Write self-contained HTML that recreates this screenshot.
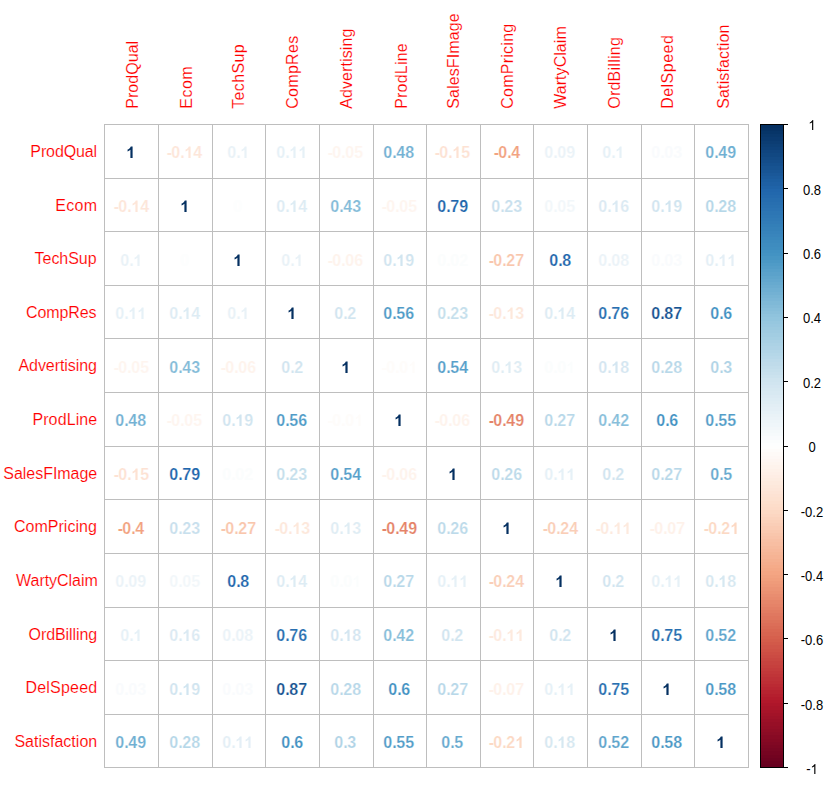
<!DOCTYPE html><html><head><meta charset="utf-8"><style>html,body{margin:0;padding:0;background:#fff;width:838px;height:785px;overflow:hidden}svg{display:block}text{font-family:"Liberation Sans",sans-serif}</style></head><body><svg width="838" height="785" viewBox="0 0 838 785" shape-rendering="crispEdges"><rect x="0" y="0" width="838" height="785" fill="#fff"/><g fill="#BEBEBE"><rect x="104" y="124" width="1" height="644"/><rect x="158" y="124" width="1" height="644"/><rect x="212" y="124" width="1" height="644"/><rect x="265" y="124" width="1" height="644"/><rect x="319" y="124" width="1" height="644"/><rect x="373" y="124" width="1" height="644"/><rect x="426" y="124" width="1" height="644"/><rect x="480" y="124" width="1" height="644"/><rect x="533" y="124" width="1" height="644"/><rect x="587" y="124" width="1" height="644"/><rect x="641" y="124" width="1" height="644"/><rect x="694" y="124" width="1" height="644"/><rect x="748" y="124" width="1" height="644"/><rect x="104" y="124" width="645" height="1"/><rect x="104" y="178" width="645" height="1"/><rect x="104" y="231" width="645" height="1"/><rect x="104" y="285" width="645" height="1"/><rect x="104" y="338" width="645" height="1"/><rect x="104" y="392" width="645" height="1"/><rect x="104" y="446" width="645" height="1"/><rect x="104" y="499" width="645" height="1"/><rect x="104" y="553" width="645" height="1"/><rect x="104" y="607" width="645" height="1"/><rect x="104" y="660" width="645" height="1"/><rect x="104" y="714" width="645" height="1"/><rect x="104" y="767" width="645" height="1"/></g><defs><path id="one" d="M806 0H525V1053Q371 909 163 840V1094Q273 1130 401 1230Q529 1330 577 1466H806Z"/></defs><g font-weight="bold" font-size="16px" stroke="#fff" stroke-width="0.2"><text x="126.30" y="158" fill="#053061"> </text><text x="166.80 171.30 180.30 184.30 193.30" y="158" fill="#FDE6D9">-0. 4</text><text x="227.30 236.30 240.30" y="158" fill="#E9F2F7">0. </text><text x="276.30 285.30 289.30 298.30" y="158" fill="#E6F1F7">0.  </text><text x="327.80 332.30 341.30 345.30 354.30" y="158" fill="#FEF5EF">-0.05</text><text x="383.30 392.30 396.30 405.30" y="158" fill="#73B1D3">0.48</text><text x="434.80 439.30 448.30 452.30 461.30" y="158" fill="#FDE2D3">-0. 5</text><text x="493.80 498.30 507.30 511.30" y="158" fill="#F2A280">-0.4</text><text x="544.30 553.30 557.30 566.30" y="158" fill="#EBF3F8">0.09</text><text x="602.30 611.30 615.30" y="158" fill="#E6F1F7">0. </text><text x="651.30 660.30 664.30 673.30" y="158" fill="#F9FBFD">0.03</text><text x="705.30 714.30 718.30 727.30" y="158" fill="#6FAFD2">0.49</text><text x="113.80 118.30 127.30 131.30 140.30" y="212" fill="#FDE6D9">-0. 4</text><text x="180.30" y="212" fill="#053061"> </text><text x="233.30" y="212" fill="#FDFEFE">0</text><text x="276.30 285.30 289.30 298.30" y="212" fill="#DDECF4">0. 4</text><text x="330.30 339.30 343.30 352.30" y="212" fill="#83BBD8">0.43</text><text x="381.80 386.30 395.30 399.30 408.30" y="212" fill="#FEF5EF">-0.05</text><text x="437.30 446.30 450.30 459.30" y="212" fill="#2166AC">0.79</text><text x="491.30 500.30 504.30 513.30" y="212" fill="#C8E0ED">0.23</text><text x="544.30 553.30 557.30 566.30" y="212" fill="#F2F7FA">0.05</text><text x="598.30 607.30 611.30 620.30" y="212" fill="#DBEAF3">0. 6</text><text x="651.30 660.30 664.30 673.30" y="212" fill="#D1E5F0">0. 9</text><text x="705.30 714.30 718.30 727.30" y="212" fill="#B5D7E8">0.28</text><text x="120.30 129.30 133.30" y="266" fill="#E9F2F7">0. </text><text x="180.30" y="266" fill="#FDFEFE">0</text><text x="233.30" y="266" fill="#053061"> </text><text x="281.30 290.30 294.30" y="266" fill="#E9F2F7">0. </text><text x="327.80 332.30 341.30 345.30 354.30" y="266" fill="#FEF3EC">-0.06</text><text x="383.30 392.30 396.30 405.30" y="266" fill="#D1E5F0">0. 9</text><text x="437.30 446.30 450.30 459.30" y="266" fill="#FBFDFD">0.02</text><text x="488.80 493.30 502.30 506.30 515.30" y="266" fill="#F9C6AC">-0.27</text><text x="549.30 558.30 562.30" y="266" fill="#2166AC">0.8</text><text x="598.30 607.30 611.30 620.30" y="266" fill="#EBF3F8">0.08</text><text x="651.30 660.30 664.30 673.30" y="266" fill="#F9FBFD">0.03</text><text x="705.30 714.30 718.30 727.30" y="266" fill="#E4EFF6">0.  </text><text x="115.30 124.30 128.30 137.30" y="319" fill="#E6F1F7">0.  </text><text x="169.30 178.30 182.30 191.30" y="319" fill="#DDECF4">0. 4</text><text x="227.30 236.30 240.30" y="319" fill="#E9F2F7">0. </text><text x="287.30" y="319" fill="#053061"> </text><text x="334.30 343.30 347.30" y="319" fill="#D1E5F0">0.2</text><text x="383.30 392.30 396.30 405.30" y="319" fill="#4F9BC7">0.56</text><text x="437.30 446.30 450.30 459.30" y="319" fill="#C5DFEC">0.23</text><text x="488.80 493.30 502.30 506.30 515.30" y="319" fill="#FDE8DB">-0. 3</text><text x="544.30 553.30 557.30 566.30" y="319" fill="#DDECF4">0. 4</text><text x="598.30 607.30 611.30 620.30" y="319" fill="#286FB0">0.76</text><text x="651.30 660.30 664.30 673.30" y="319" fill="#175391">0.87</text><text x="710.30 719.30 723.30" y="319" fill="#4191C2">0.6</text><text x="113.80 118.30 127.30 131.30 140.30" y="373" fill="#FEF5EF">-0.05</text><text x="169.30 178.30 182.30 191.30" y="373" fill="#83BBD8">0.43</text><text x="220.80 225.30 234.30 238.30 247.30" y="373" fill="#FEF3EC">-0.06</text><text x="281.30 290.30 294.30" y="373" fill="#D1E5F0">0.2</text><text x="341.30" y="373" fill="#053061"> </text><text x="381.80 386.30 395.30 399.30 408.30" y="373" fill="#FEFCFA">-0.0 </text><text x="437.30 446.30 450.30 459.30" y="373" fill="#57A0CA">0.54</text><text x="491.30 500.30 504.30 513.30" y="373" fill="#DFEDF4">0. 3</text><text x="544.30 553.30 557.30 566.30" y="373" fill="#FBFDFD">0.0 </text><text x="598.30 607.30 611.30 620.30" y="373" fill="#D4E6F1">0. 8</text><text x="651.30 660.30 664.30 673.30" y="373" fill="#B8D8E9">0.28</text><text x="710.30 719.30 723.30" y="373" fill="#AFD3E6">0.3</text><text x="115.30 124.30 128.30 137.30" y="426" fill="#73B1D3">0.48</text><text x="166.80 171.30 180.30 184.30 193.30" y="426" fill="#FEF5EF">-0.05</text><text x="222.30 231.30 235.30 244.30" y="426" fill="#D1E5F0">0. 9</text><text x="276.30 285.30 289.30 298.30" y="426" fill="#4F9BC7">0.56</text><text x="327.80 332.30 341.30 345.30 354.30" y="426" fill="#FEFCFA">-0.0 </text><text x="394.30" y="426" fill="#053061"> </text><text x="434.80 439.30 448.30 452.30 461.30" y="426" fill="#FEF3EC">-0.06</text><text x="488.80 493.30 502.30 506.30 515.30" y="426" fill="#E58368">-0.49</text><text x="544.30 553.30 557.30 566.30" y="426" fill="#B8D8E9">0.27</text><text x="598.30 607.30 611.30 620.30" y="426" fill="#87BEDA">0.42</text><text x="656.30 665.30 669.30" y="426" fill="#4191C2">0.6</text><text x="705.30 714.30 718.30 727.30" y="426" fill="#539DC8">0.55</text><text x="113.80 118.30 127.30 131.30 140.30" y="480" fill="#FDE2D3">-0. 5</text><text x="169.30 178.30 182.30 191.30" y="480" fill="#2166AC">0.79</text><text x="222.30 231.30 235.30 244.30" y="480" fill="#FBFDFD">0.02</text><text x="276.30 285.30 289.30 298.30" y="480" fill="#C5DFEC">0.23</text><text x="330.30 339.30 343.30 352.30" y="480" fill="#57A0CA">0.54</text><text x="381.80 386.30 395.30 399.30 408.30" y="480" fill="#FEF3EC">-0.06</text><text x="448.30" y="480" fill="#053061"> </text><text x="491.30 500.30 504.30 513.30" y="480" fill="#BCDAEA">0.26</text><text x="544.30 553.30 557.30 566.30" y="480" fill="#E6F1F7">0.  </text><text x="602.30 611.30 615.30" y="480" fill="#D1E5F0">0.2</text><text x="651.30 660.30 664.30 673.30" y="480" fill="#B8D8E9">0.27</text><text x="710.30 719.30 723.30" y="480" fill="#67AACF">0.5</text><text x="117.80 122.30 131.30 135.30" y="534" fill="#F2A280">-0.4</text><text x="169.30 178.30 182.30 191.30" y="534" fill="#C8E0ED">0.23</text><text x="220.80 225.30 234.30 238.30 247.30" y="534" fill="#F9C6AC">-0.27</text><text x="274.80 279.30 288.30 292.30 301.30" y="534" fill="#FDE8DB">-0. 3</text><text x="330.30 339.30 343.30 352.30" y="534" fill="#DFEDF4">0. 3</text><text x="381.80 386.30 395.30 399.30 408.30" y="534" fill="#E58368">-0.49</text><text x="437.30 446.30 450.30 459.30" y="534" fill="#BCDAEA">0.26</text><text x="502.30" y="534" fill="#053061"> </text><text x="542.80 547.30 556.30 560.30 569.30" y="534" fill="#FACEB7">-0.24</text><text x="595.80 600.30 609.30 613.30 622.30" y="534" fill="#FDEADE">-0.  </text><text x="649.80 654.30 663.30 667.30 676.30" y="534" fill="#FEF1E9">-0.07</text><text x="703.80 708.30 717.30 721.30 730.30" y="534" fill="#FCD9C4">-0.2 </text><text x="115.30 124.30 128.30 137.30" y="587" fill="#EBF3F8">0.09</text><text x="169.30 178.30 182.30 191.30" y="587" fill="#F2F7FA">0.05</text><text x="227.30 236.30 240.30" y="587" fill="#2166AC">0.8</text><text x="276.30 285.30 289.30 298.30" y="587" fill="#DDECF4">0. 4</text><text x="330.30 339.30 343.30 352.30" y="587" fill="#FBFDFD">0.0 </text><text x="383.30 392.30 396.30 405.30" y="587" fill="#B8D8E9">0.27</text><text x="437.30 446.30 450.30 459.30" y="587" fill="#E6F1F7">0.  </text><text x="488.80 493.30 502.30 506.30 515.30" y="587" fill="#FACEB7">-0.24</text><text x="555.30" y="587" fill="#053061"> </text><text x="602.30 611.30 615.30" y="587" fill="#D1E5F0">0.2</text><text x="651.30 660.30 664.30 673.30" y="587" fill="#E6F1F7">0.  </text><text x="705.30 714.30 718.30 727.30" y="587" fill="#D6E8F1">0. 8</text><text x="120.30 129.30 133.30" y="641" fill="#E6F1F7">0. </text><text x="169.30 178.30 182.30 191.30" y="641" fill="#DBEAF3">0. 6</text><text x="222.30 231.30 235.30 244.30" y="641" fill="#EBF3F8">0.08</text><text x="276.30 285.30 289.30 298.30" y="641" fill="#286FB0">0.76</text><text x="330.30 339.30 343.30 352.30" y="641" fill="#D4E6F1">0. 8</text><text x="383.30 392.30 396.30 405.30" y="641" fill="#87BEDA">0.42</text><text x="441.30 450.30 454.30" y="641" fill="#D1E5F0">0.2</text><text x="488.80 493.30 502.30 506.30 515.30" y="641" fill="#FDEADE">-0.  </text><text x="549.30 558.30 562.30" y="641" fill="#D1E5F0">0.2</text><text x="609.30" y="641" fill="#053061"> </text><text x="651.30 660.30 664.30 673.30" y="641" fill="#286FB0">0.75</text><text x="705.30 714.30 718.30 727.30" y="641" fill="#5FA5CC">0.52</text><text x="115.30 124.30 128.30 137.30" y="695" fill="#F9FBFD">0.03</text><text x="169.30 178.30 182.30 191.30" y="695" fill="#D1E5F0">0. 9</text><text x="222.30 231.30 235.30 244.30" y="695" fill="#F9FBFD">0.03</text><text x="276.30 285.30 289.30 298.30" y="695" fill="#175391">0.87</text><text x="330.30 339.30 343.30 352.30" y="695" fill="#B8D8E9">0.28</text><text x="388.30 397.30 401.30" y="695" fill="#4191C2">0.6</text><text x="437.30 446.30 450.30 459.30" y="695" fill="#B8D8E9">0.27</text><text x="488.80 493.30 502.30 506.30 515.30" y="695" fill="#FEF1E9">-0.07</text><text x="544.30 553.30 557.30 566.30" y="695" fill="#E6F1F7">0.  </text><text x="598.30 607.30 611.30 620.30" y="695" fill="#286FB0">0.75</text><text x="662.30" y="695" fill="#053061"> </text><text x="705.30 714.30 718.30 727.30" y="695" fill="#4B98C5">0.58</text><text x="115.30 124.30 128.30 137.30" y="748" fill="#6FAFD2">0.49</text><text x="169.30 178.30 182.30 191.30" y="748" fill="#B5D7E8">0.28</text><text x="222.30 231.30 235.30 244.30" y="748" fill="#E4EFF6">0.  </text><text x="281.30 290.30 294.30" y="748" fill="#4191C2">0.6</text><text x="334.30 343.30 347.30" y="748" fill="#AFD3E6">0.3</text><text x="383.30 392.30 396.30 405.30" y="748" fill="#539DC8">0.55</text><text x="441.30 450.30 454.30" y="748" fill="#67AACF">0.5</text><text x="488.80 493.30 502.30 506.30 515.30" y="748" fill="#FCD9C4">-0.2 </text><text x="544.30 553.30 557.30 566.30" y="748" fill="#D6E8F1">0. 8</text><text x="598.30 607.30 611.30 620.30" y="748" fill="#5FA5CC">0.52</text><text x="651.30 660.30 664.30 673.30" y="748" fill="#4B98C5">0.58</text><text x="716.30" y="748" fill="#053061"> </text></g><g shape-rendering="auto"><use href="#one" transform="translate(126.30,158) scale(0.00781,-0.00781)" fill="#053061"/><use href="#one" transform="translate(184.30,158) scale(0.00781,-0.00781)" fill="#FDE6D9"/><use href="#one" transform="translate(240.30,158) scale(0.00781,-0.00781)" fill="#E9F2F7"/><use href="#one" transform="translate(289.30,158) scale(0.00781,-0.00781)" fill="#E6F1F7"/><use href="#one" transform="translate(298.30,158) scale(0.00781,-0.00781)" fill="#E6F1F7"/><use href="#one" transform="translate(452.30,158) scale(0.00781,-0.00781)" fill="#FDE2D3"/><use href="#one" transform="translate(615.30,158) scale(0.00781,-0.00781)" fill="#E6F1F7"/><use href="#one" transform="translate(131.30,212) scale(0.00781,-0.00781)" fill="#FDE6D9"/><use href="#one" transform="translate(180.30,212) scale(0.00781,-0.00781)" fill="#053061"/><use href="#one" transform="translate(289.30,212) scale(0.00781,-0.00781)" fill="#DDECF4"/><use href="#one" transform="translate(611.30,212) scale(0.00781,-0.00781)" fill="#DBEAF3"/><use href="#one" transform="translate(664.30,212) scale(0.00781,-0.00781)" fill="#D1E5F0"/><use href="#one" transform="translate(133.30,266) scale(0.00781,-0.00781)" fill="#E9F2F7"/><use href="#one" transform="translate(233.30,266) scale(0.00781,-0.00781)" fill="#053061"/><use href="#one" transform="translate(294.30,266) scale(0.00781,-0.00781)" fill="#E9F2F7"/><use href="#one" transform="translate(396.30,266) scale(0.00781,-0.00781)" fill="#D1E5F0"/><use href="#one" transform="translate(718.30,266) scale(0.00781,-0.00781)" fill="#E4EFF6"/><use href="#one" transform="translate(727.30,266) scale(0.00781,-0.00781)" fill="#E4EFF6"/><use href="#one" transform="translate(128.30,319) scale(0.00781,-0.00781)" fill="#E6F1F7"/><use href="#one" transform="translate(137.30,319) scale(0.00781,-0.00781)" fill="#E6F1F7"/><use href="#one" transform="translate(182.30,319) scale(0.00781,-0.00781)" fill="#DDECF4"/><use href="#one" transform="translate(240.30,319) scale(0.00781,-0.00781)" fill="#E9F2F7"/><use href="#one" transform="translate(287.30,319) scale(0.00781,-0.00781)" fill="#053061"/><use href="#one" transform="translate(506.30,319) scale(0.00781,-0.00781)" fill="#FDE8DB"/><use href="#one" transform="translate(557.30,319) scale(0.00781,-0.00781)" fill="#DDECF4"/><use href="#one" transform="translate(341.30,373) scale(0.00781,-0.00781)" fill="#053061"/><use href="#one" transform="translate(408.30,373) scale(0.00781,-0.00781)" fill="#FEFCFA"/><use href="#one" transform="translate(504.30,373) scale(0.00781,-0.00781)" fill="#DFEDF4"/><use href="#one" transform="translate(566.30,373) scale(0.00781,-0.00781)" fill="#FBFDFD"/><use href="#one" transform="translate(611.30,373) scale(0.00781,-0.00781)" fill="#D4E6F1"/><use href="#one" transform="translate(235.30,426) scale(0.00781,-0.00781)" fill="#D1E5F0"/><use href="#one" transform="translate(354.30,426) scale(0.00781,-0.00781)" fill="#FEFCFA"/><use href="#one" transform="translate(394.30,426) scale(0.00781,-0.00781)" fill="#053061"/><use href="#one" transform="translate(131.30,480) scale(0.00781,-0.00781)" fill="#FDE2D3"/><use href="#one" transform="translate(448.30,480) scale(0.00781,-0.00781)" fill="#053061"/><use href="#one" transform="translate(557.30,480) scale(0.00781,-0.00781)" fill="#E6F1F7"/><use href="#one" transform="translate(566.30,480) scale(0.00781,-0.00781)" fill="#E6F1F7"/><use href="#one" transform="translate(292.30,534) scale(0.00781,-0.00781)" fill="#FDE8DB"/><use href="#one" transform="translate(343.30,534) scale(0.00781,-0.00781)" fill="#DFEDF4"/><use href="#one" transform="translate(502.30,534) scale(0.00781,-0.00781)" fill="#053061"/><use href="#one" transform="translate(613.30,534) scale(0.00781,-0.00781)" fill="#FDEADE"/><use href="#one" transform="translate(622.30,534) scale(0.00781,-0.00781)" fill="#FDEADE"/><use href="#one" transform="translate(730.30,534) scale(0.00781,-0.00781)" fill="#FCD9C4"/><use href="#one" transform="translate(289.30,587) scale(0.00781,-0.00781)" fill="#DDECF4"/><use href="#one" transform="translate(352.30,587) scale(0.00781,-0.00781)" fill="#FBFDFD"/><use href="#one" transform="translate(450.30,587) scale(0.00781,-0.00781)" fill="#E6F1F7"/><use href="#one" transform="translate(459.30,587) scale(0.00781,-0.00781)" fill="#E6F1F7"/><use href="#one" transform="translate(555.30,587) scale(0.00781,-0.00781)" fill="#053061"/><use href="#one" transform="translate(664.30,587) scale(0.00781,-0.00781)" fill="#E6F1F7"/><use href="#one" transform="translate(673.30,587) scale(0.00781,-0.00781)" fill="#E6F1F7"/><use href="#one" transform="translate(718.30,587) scale(0.00781,-0.00781)" fill="#D6E8F1"/><use href="#one" transform="translate(133.30,641) scale(0.00781,-0.00781)" fill="#E6F1F7"/><use href="#one" transform="translate(182.30,641) scale(0.00781,-0.00781)" fill="#DBEAF3"/><use href="#one" transform="translate(343.30,641) scale(0.00781,-0.00781)" fill="#D4E6F1"/><use href="#one" transform="translate(506.30,641) scale(0.00781,-0.00781)" fill="#FDEADE"/><use href="#one" transform="translate(515.30,641) scale(0.00781,-0.00781)" fill="#FDEADE"/><use href="#one" transform="translate(609.30,641) scale(0.00781,-0.00781)" fill="#053061"/><use href="#one" transform="translate(182.30,695) scale(0.00781,-0.00781)" fill="#D1E5F0"/><use href="#one" transform="translate(557.30,695) scale(0.00781,-0.00781)" fill="#E6F1F7"/><use href="#one" transform="translate(566.30,695) scale(0.00781,-0.00781)" fill="#E6F1F7"/><use href="#one" transform="translate(662.30,695) scale(0.00781,-0.00781)" fill="#053061"/><use href="#one" transform="translate(235.30,748) scale(0.00781,-0.00781)" fill="#E4EFF6"/><use href="#one" transform="translate(244.30,748) scale(0.00781,-0.00781)" fill="#E4EFF6"/><use href="#one" transform="translate(515.30,748) scale(0.00781,-0.00781)" fill="#FCD9C4"/><use href="#one" transform="translate(557.30,748) scale(0.00781,-0.00781)" fill="#D6E8F1"/><use href="#one" transform="translate(716.30,748) scale(0.00781,-0.00781)" fill="#053061"/></g><g fill="#FF0000" text-anchor="end" font-size="16px" letter-spacing="0.00px" stroke="#fff" stroke-width="0.15"><text x="97.15" y="157.40" textLength="66.79" lengthAdjust="spacing">ProdQual</text><text x="97.07" y="210.90" textLength="41.94" lengthAdjust="spacing">Ecom</text><text x="96.63" y="264.40" textLength="62.04" lengthAdjust="spacing">TechSup</text><text x="96.44" y="317.90" textLength="70.41" lengthAdjust="spacing">CompRes</text><text x="96.91" y="371.40" textLength="78.39" lengthAdjust="spacing">Advertising</text><text x="97.26" y="425.40" textLength="64.87" lengthAdjust="spacing">ProdLine</text><text x="97.26" y="478.90" textLength="93.97" lengthAdjust="spacing">SalesFImage</text><text x="96.91" y="532.40" textLength="83.01" lengthAdjust="spacing">ComPricing</text><text x="97.77" y="586.40" textLength="81.67" lengthAdjust="spacing">WartyClaim</text><text x="97.21" y="639.90" textLength="68.70" lengthAdjust="spacing">OrdBilling</text><text x="97.21" y="693.40" textLength="71.82" lengthAdjust="spacing">DelSpeed</text><text x="97.21" y="746.90" textLength="82.83" lengthAdjust="spacing">Satisfaction</text></g><g fill="#FF0000" text-anchor="start" font-size="16px" stroke="#fff" stroke-width="0.15"><text transform="translate(138.30,108.80) rotate(-90)" x="0" y="0" textLength="67.98" lengthAdjust="spacing">ProdQual</text><text transform="translate(192.30,108.80) rotate(-90)" x="0" y="0" textLength="42.48" lengthAdjust="spacing">Ecom</text><text transform="translate(243.60,108.80) rotate(-90)" x="0" y="0" textLength="64.48" lengthAdjust="spacing">TechSup</text><text transform="translate(298.40,108.80) rotate(-90)" x="0" y="0" textLength="72.98" lengthAdjust="spacing">CompRes</text><text transform="translate(352.40,108.80) rotate(-90)" x="0" y="0" textLength="80.24" lengthAdjust="spacing">Advertising</text><text transform="translate(406.90,108.80) rotate(-90)" x="0" y="0" textLength="65.51" lengthAdjust="spacing">ProdLine</text><text transform="translate(459.40,108.80) rotate(-90)" x="0" y="0" textLength="95.53" lengthAdjust="spacing">SalesFImage</text><text transform="translate(512.90,108.80) rotate(-90)" x="0" y="0" textLength="85.04" lengthAdjust="spacing">ComPricing</text><text transform="translate(566.40,108.80) rotate(-90)" x="0" y="0" textLength="82.57" lengthAdjust="spacing">WartyClaim</text><text transform="translate(620.40,108.80) rotate(-90)" x="0" y="0" textLength="71.66" lengthAdjust="spacing">OrdBilling</text><text transform="translate(672.90,108.80) rotate(-90)" x="0" y="0" textLength="73.60" lengthAdjust="spacing">DelSpeed</text><text transform="translate(729.40,108.80) rotate(-90)" x="0" y="0" textLength="84.29" lengthAdjust="spacing">Satisfaction</text></g><g><rect x="761" y="125" width="22" height="3" fill="#053061"/><rect x="761" y="128" width="22" height="3" fill="#063264"/><rect x="761" y="131" width="22" height="3" fill="#073568"/><rect x="761" y="134" width="22" height="3" fill="#09386C"/><rect x="761" y="137" width="22" height="4" fill="#0A3A70"/><rect x="761" y="141" width="22" height="3" fill="#0C3D73"/><rect x="761" y="144" width="22" height="3" fill="#0D4077"/><rect x="761" y="147" width="22" height="3" fill="#0E427B"/><rect x="761" y="150" width="22" height="3" fill="#10457F"/><rect x="761" y="153" width="22" height="4" fill="#114882"/><rect x="761" y="157" width="22" height="3" fill="#134B86"/><rect x="761" y="160" width="22" height="3" fill="#144D8A"/><rect x="761" y="163" width="22" height="3" fill="#15508E"/><rect x="761" y="166" width="22" height="4" fill="#175391"/><rect x="761" y="170" width="22" height="3" fill="#185595"/><rect x="761" y="173" width="22" height="3" fill="#1A5899"/><rect x="761" y="176" width="22" height="3" fill="#1B5B9D"/><rect x="761" y="179" width="22" height="3" fill="#1C5EA1"/><rect x="761" y="182" width="22" height="4" fill="#1E60A4"/><rect x="761" y="186" width="22" height="3" fill="#1F63A8"/><rect x="761" y="189" width="22" height="3" fill="#2166AC"/><rect x="761" y="192" width="22" height="3" fill="#2268AD"/><rect x="761" y="195" width="22" height="3" fill="#246AAE"/><rect x="761" y="198" width="22" height="4" fill="#266DAF"/><rect x="761" y="202" width="22" height="3" fill="#286FB0"/><rect x="761" y="205" width="22" height="3" fill="#2971B1"/><rect x="761" y="208" width="22" height="3" fill="#2B73B3"/><rect x="761" y="211" width="22" height="4" fill="#2D76B4"/><rect x="761" y="215" width="22" height="3" fill="#2E78B5"/><rect x="761" y="218" width="22" height="3" fill="#307AB6"/><rect x="761" y="221" width="22" height="3" fill="#327CB7"/><rect x="761" y="224" width="22" height="3" fill="#337FB8"/><rect x="761" y="227" width="22" height="4" fill="#3581B9"/><rect x="761" y="231" width="22" height="3" fill="#3783BB"/><rect x="761" y="234" width="22" height="3" fill="#3985BC"/><rect x="761" y="237" width="22" height="3" fill="#3A88BD"/><rect x="761" y="240" width="22" height="3" fill="#3C8ABE"/><rect x="761" y="243" width="22" height="4" fill="#3E8CBF"/><rect x="761" y="247" width="22" height="3" fill="#3F8EC0"/><rect x="761" y="250" width="22" height="3" fill="#4191C2"/><rect x="761" y="253" width="22" height="3" fill="#4393C3"/><rect x="761" y="256" width="22" height="4" fill="#4796C4"/><rect x="761" y="260" width="22" height="3" fill="#4B98C5"/><rect x="761" y="263" width="22" height="3" fill="#4F9BC7"/><rect x="761" y="266" width="22" height="3" fill="#539DC8"/><rect x="761" y="269" width="22" height="3" fill="#57A0CA"/><rect x="761" y="272" width="22" height="4" fill="#5BA2CB"/><rect x="761" y="276" width="22" height="3" fill="#5FA5CC"/><rect x="761" y="279" width="22" height="3" fill="#63A7CE"/><rect x="761" y="282" width="22" height="3" fill="#67AACF"/><rect x="761" y="285" width="22" height="3" fill="#6BACD0"/><rect x="761" y="288" width="22" height="4" fill="#6FAFD2"/><rect x="761" y="292" width="22" height="3" fill="#73B1D3"/><rect x="761" y="295" width="22" height="3" fill="#77B4D4"/><rect x="761" y="298" width="22" height="3" fill="#7BB6D6"/><rect x="761" y="301" width="22" height="4" fill="#7FB9D7"/><rect x="761" y="305" width="22" height="3" fill="#83BBD8"/><rect x="761" y="308" width="22" height="3" fill="#87BEDA"/><rect x="761" y="311" width="22" height="3" fill="#8BC0DB"/><rect x="761" y="314" width="22" height="3" fill="#8FC3DD"/><rect x="761" y="317" width="22" height="4" fill="#92C5DE"/><rect x="761" y="321" width="22" height="3" fill="#96C7DF"/><rect x="761" y="324" width="22" height="3" fill="#99C8E0"/><rect x="761" y="327" width="22" height="3" fill="#9CCAE0"/><rect x="761" y="330" width="22" height="3" fill="#9FCBE1"/><rect x="761" y="333" width="22" height="4" fill="#A2CDE2"/><rect x="761" y="337" width="22" height="3" fill="#A5CFE3"/><rect x="761" y="340" width="22" height="3" fill="#A9D0E4"/><rect x="761" y="343" width="22" height="3" fill="#ACD2E5"/><rect x="761" y="346" width="22" height="4" fill="#AFD3E6"/><rect x="761" y="350" width="22" height="3" fill="#B2D5E7"/><rect x="761" y="353" width="22" height="3" fill="#B5D7E8"/><rect x="761" y="356" width="22" height="3" fill="#B8D8E9"/><rect x="761" y="359" width="22" height="3" fill="#BCDAEA"/><rect x="761" y="362" width="22" height="4" fill="#BFDBEA"/><rect x="761" y="366" width="22" height="3" fill="#C2DDEB"/><rect x="761" y="369" width="22" height="3" fill="#C5DFEC"/><rect x="761" y="372" width="22" height="3" fill="#C8E0ED"/><rect x="761" y="375" width="22" height="3" fill="#CBE2EE"/><rect x="761" y="378" width="22" height="4" fill="#CFE4EF"/><rect x="761" y="382" width="22" height="3" fill="#D1E5F0"/><rect x="761" y="385" width="22" height="3" fill="#D4E6F1"/><rect x="761" y="388" width="22" height="3" fill="#D6E8F1"/><rect x="761" y="391" width="22" height="4" fill="#D8E9F2"/><rect x="761" y="395" width="22" height="3" fill="#DBEAF3"/><rect x="761" y="398" width="22" height="3" fill="#DDECF4"/><rect x="761" y="401" width="22" height="3" fill="#DFEDF4"/><rect x="761" y="404" width="22" height="3" fill="#E2EEF5"/><rect x="761" y="407" width="22" height="4" fill="#E4EFF6"/><rect x="761" y="411" width="22" height="3" fill="#E6F1F7"/><rect x="761" y="414" width="22" height="3" fill="#E9F2F7"/><rect x="761" y="417" width="22" height="3" fill="#EBF3F8"/><rect x="761" y="420" width="22" height="3" fill="#EDF5F9"/><rect x="761" y="423" width="22" height="4" fill="#EFF6FA"/><rect x="761" y="427" width="22" height="3" fill="#F2F7FA"/><rect x="761" y="430" width="22" height="3" fill="#F4F9FB"/><rect x="761" y="433" width="22" height="3" fill="#F6FAFC"/><rect x="761" y="436" width="22" height="4" fill="#F9FBFD"/><rect x="761" y="440" width="22" height="3" fill="#FBFDFD"/><rect x="761" y="443" width="22" height="3" fill="#FDFEFE"/><rect x="761" y="446" width="22" height="3" fill="#FEFEFD"/><rect x="761" y="449" width="22" height="3" fill="#FEFCFA"/><rect x="761" y="452" width="22" height="4" fill="#FEFAF7"/><rect x="761" y="456" width="22" height="3" fill="#FEF8F5"/><rect x="761" y="459" width="22" height="3" fill="#FEF6F2"/><rect x="761" y="462" width="22" height="3" fill="#FEF5EF"/><rect x="761" y="465" width="22" height="4" fill="#FEF3EC"/><rect x="761" y="469" width="22" height="3" fill="#FEF1E9"/><rect x="761" y="472" width="22" height="3" fill="#FEEFE7"/><rect x="761" y="475" width="22" height="3" fill="#FEEDE4"/><rect x="761" y="478" width="22" height="3" fill="#FDECE1"/><rect x="761" y="481" width="22" height="4" fill="#FDEADE"/><rect x="761" y="485" width="22" height="3" fill="#FDE8DB"/><rect x="761" y="488" width="22" height="3" fill="#FDE6D9"/><rect x="761" y="491" width="22" height="3" fill="#FDE4D6"/><rect x="761" y="494" width="22" height="3" fill="#FDE2D3"/><rect x="761" y="497" width="22" height="4" fill="#FDE1D0"/><rect x="761" y="501" width="22" height="3" fill="#FDDFCD"/><rect x="761" y="504" width="22" height="3" fill="#FDDDCA"/><rect x="761" y="507" width="22" height="3" fill="#FDDBC8"/><rect x="761" y="510" width="22" height="4" fill="#FCD9C4"/><rect x="761" y="514" width="22" height="3" fill="#FCD6C1"/><rect x="761" y="517" width="22" height="3" fill="#FBD3BD"/><rect x="761" y="520" width="22" height="3" fill="#FBD1BA"/><rect x="761" y="523" width="22" height="3" fill="#FACEB7"/><rect x="761" y="526" width="22" height="4" fill="#FACBB3"/><rect x="761" y="530" width="22" height="3" fill="#FAC9B0"/><rect x="761" y="533" width="22" height="3" fill="#F9C6AC"/><rect x="761" y="536" width="22" height="3" fill="#F9C3A9"/><rect x="761" y="539" width="22" height="3" fill="#F8C0A5"/><rect x="761" y="542" width="22" height="4" fill="#F8BEA2"/><rect x="761" y="546" width="22" height="3" fill="#F7BB9E"/><rect x="761" y="549" width="22" height="3" fill="#F7B89B"/><rect x="761" y="552" width="22" height="3" fill="#F6B697"/><rect x="761" y="555" width="22" height="4" fill="#F6B394"/><rect x="761" y="559" width="22" height="3" fill="#F5B090"/><rect x="761" y="562" width="22" height="3" fill="#F5AD8D"/><rect x="761" y="565" width="22" height="3" fill="#F5AB89"/><rect x="761" y="568" width="22" height="3" fill="#F4A886"/><rect x="761" y="571" width="22" height="4" fill="#F4A583"/><rect x="761" y="575" width="22" height="3" fill="#F2A280"/><rect x="761" y="578" width="22" height="3" fill="#F19F7D"/><rect x="761" y="581" width="22" height="3" fill="#EF9B7A"/><rect x="761" y="584" width="22" height="3" fill="#EE9878"/><rect x="761" y="587" width="22" height="4" fill="#EC9475"/><rect x="761" y="591" width="22" height="3" fill="#EB9172"/><rect x="761" y="594" width="22" height="3" fill="#E98D70"/><rect x="761" y="597" width="22" height="3" fill="#E88A6D"/><rect x="761" y="600" width="22" height="4" fill="#E6866A"/><rect x="761" y="604" width="22" height="3" fill="#E58368"/><rect x="761" y="607" width="22" height="3" fill="#E37F65"/><rect x="761" y="610" width="22" height="3" fill="#E27C62"/><rect x="761" y="613" width="22" height="3" fill="#E07860"/><rect x="761" y="616" width="22" height="4" fill="#DF755D"/><rect x="761" y="620" width="22" height="3" fill="#DD725A"/><rect x="761" y="623" width="22" height="3" fill="#DC6E58"/><rect x="761" y="626" width="22" height="3" fill="#DA6B55"/><rect x="761" y="629" width="22" height="3" fill="#D96752"/><rect x="761" y="632" width="22" height="4" fill="#D76450"/><rect x="761" y="636" width="22" height="3" fill="#D6604D"/><rect x="761" y="639" width="22" height="3" fill="#D45D4B"/><rect x="761" y="642" width="22" height="3" fill="#D25949"/><rect x="761" y="645" width="22" height="4" fill="#D05548"/><rect x="761" y="649" width="22" height="3" fill="#CF5246"/><rect x="761" y="652" width="22" height="3" fill="#CD4E44"/><rect x="761" y="655" width="22" height="3" fill="#CB4B43"/><rect x="761" y="658" width="22" height="3" fill="#C94741"/><rect x="761" y="661" width="22" height="4" fill="#C7433F"/><rect x="761" y="665" width="22" height="3" fill="#C6403D"/><rect x="761" y="668" width="22" height="3" fill="#C43C3C"/><rect x="761" y="671" width="22" height="3" fill="#C2383A"/><rect x="761" y="674" width="22" height="3" fill="#C03538"/><rect x="761" y="677" width="22" height="4" fill="#BE3137"/><rect x="761" y="681" width="22" height="3" fill="#BD2E35"/><rect x="761" y="684" width="22" height="3" fill="#BB2A33"/><rect x="761" y="687" width="22" height="3" fill="#B92632"/><rect x="761" y="690" width="22" height="4" fill="#B72330"/><rect x="761" y="694" width="22" height="3" fill="#B51F2E"/><rect x="761" y="697" width="22" height="3" fill="#B31B2C"/><rect x="761" y="700" width="22" height="3" fill="#B2182B"/><rect x="761" y="703" width="22" height="3" fill="#AE162A"/><rect x="761" y="706" width="22" height="4" fill="#AA1529"/><rect x="761" y="710" width="22" height="3" fill="#A71429"/><rect x="761" y="713" width="22" height="3" fill="#A31328"/><rect x="761" y="716" width="22" height="3" fill="#9F1228"/><rect x="761" y="719" width="22" height="3" fill="#9B1027"/><rect x="761" y="722" width="22" height="4" fill="#970F26"/><rect x="761" y="726" width="22" height="3" fill="#940E26"/><rect x="761" y="729" width="22" height="3" fill="#900D25"/><rect x="761" y="732" width="22" height="3" fill="#8C0C25"/><rect x="761" y="735" width="22" height="4" fill="#880A24"/><rect x="761" y="739" width="22" height="3" fill="#850923"/><rect x="761" y="742" width="22" height="3" fill="#810823"/><rect x="761" y="745" width="22" height="3" fill="#7D0722"/><rect x="761" y="748" width="22" height="3" fill="#790622"/><rect x="761" y="751" width="22" height="4" fill="#760421"/><rect x="761" y="755" width="22" height="3" fill="#720320"/><rect x="761" y="758" width="22" height="3" fill="#6E0220"/><rect x="761" y="761" width="22" height="3" fill="#6A011F"/><rect x="761" y="764" width="22" height="3" fill="#67001F"/></g><g fill="#000"><rect x="760" y="124" width="1" height="644"/><rect x="783" y="124" width="1" height="644"/><rect x="760" y="124" width="24" height="1"/><rect x="760" y="767" width="24" height="1"/><rect x="783" y="124" width="5" height="1"/><rect x="783" y="188" width="5" height="1"/><rect x="783" y="253" width="5" height="1"/><rect x="783" y="317" width="5" height="1"/><rect x="783" y="381" width="5" height="1"/><rect x="783" y="446" width="5" height="1"/><rect x="783" y="510" width="5" height="1"/><rect x="783" y="574" width="5" height="1"/><rect x="783" y="638" width="5" height="1"/><rect x="783" y="703" width="5" height="1"/><rect x="783" y="767" width="5" height="1"/></g><defs><path id="oner" d="M763 0H583V1147Q518 1085 412 1023Q305 961 220 930V1104Q371 1175 484 1276Q597 1377 644 1466H763Z"/></defs><g fill="#000" font-size="14px" shape-rendering="auto"><g transform="translate(812.00,130.00) scale(0.930,1)"><text x="-3.89" y="0"> </text><use href="#oner" transform="translate(-3.89,0) scale(0.00684,-0.00684)"/></g><g transform="translate(812.00,195.00) scale(0.930,1)"><text x="-9.73 -1.94 1.94" y="0">0.8</text></g><g transform="translate(812.00,259.00) scale(0.930,1)"><text x="-9.73 -1.94 1.94" y="0">0.6</text></g><g transform="translate(812.00,323.00) scale(0.930,1)"><text x="-9.73 -1.94 1.94" y="0">0.4</text></g><g transform="translate(812.00,388.00) scale(0.930,1)"><text x="-9.73 -1.94 1.94" y="0">0.2</text></g><g transform="translate(812.00,452.00) scale(0.930,1)"><text x="-3.89" y="0">0</text></g><g transform="translate(812.00,517.00) scale(0.930,1)"><text x="-12.06 -7.40 0.39 4.28" y="0">-0.2</text></g><g transform="translate(812.00,581.00) scale(0.930,1)"><text x="-12.06 -7.40 0.39 4.28" y="0">-0.4</text></g><g transform="translate(812.00,645.00) scale(0.930,1)"><text x="-12.06 -7.40 0.39 4.28" y="0">-0.6</text></g><g transform="translate(812.00,710.00) scale(0.930,1)"><text x="-12.06 -7.40 0.39 4.28" y="0">-0.8</text></g><g transform="translate(812.00,774.00) scale(0.930,1)"><text x="-6.22 -1.56" y="0">- </text><use href="#oner" transform="translate(-1.56,0) scale(0.00684,-0.00684)"/></g></g></svg></body></html>
